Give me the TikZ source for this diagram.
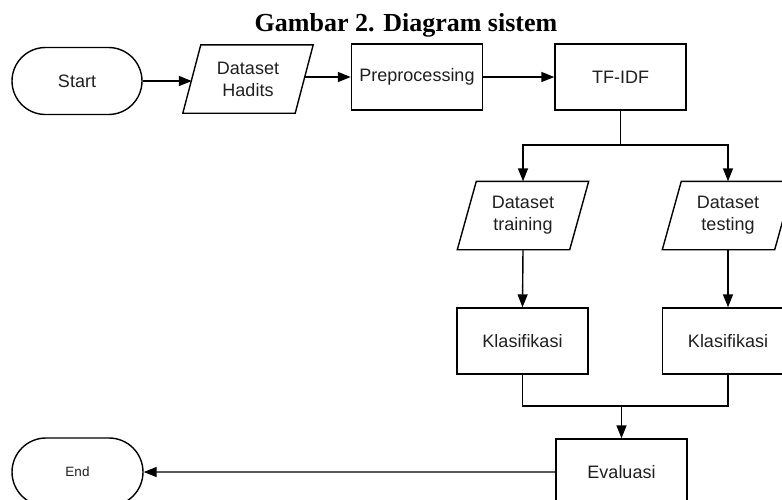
\documentclass[tikz,border=0pt]{standalone}
\usepackage{fontspec}
\setmainfont{Liberation Sans}
\newfontfamily\titlefont{Liberation Serif}
\usetikzlibrary{arrows.meta,shapes.misc}
\tikzset{
  boxline/.style={draw=black, line width=1.4pt},
  lbl/.style={font=\fontsize{18}{22}\selectfont, text=black!88, align=center, inner sep=0pt},
  procbox/.style={lbl, boxline, rectangle, minimum width=131pt, minimum height=66pt},
  termbox/.style={lbl, boxline, rounded rectangle, minimum width=130pt, minimum height=67pt},
  parabox/.style={lbl, rectangle, minimum width=112pt, minimum height=68pt},
  arr/.style={line width=1.4pt, -{Triangle[length=13pt,width=10pt]}},
  conn/.style={line width=1.4pt},
}
\newcommand\drawparabox[2]{\draw[boxline, line join=miter] ([xshift=#2]#1.north west) -- ([xshift=#2]#1.north east) -- ([xshift=-#2]#1.south east) -- ([xshift=-#2]#1.south west) -- cycle;}
\begin{document}
\begin{tikzpicture}[x=1pt, y=-1pt]
\useasboundingbox (0,0) rectangle (782,499);
\clip (0,0) rectangle (782,499);
% title
\node[anchor=base, inner sep=0pt, font=\titlefont\bfseries\fontsize{26}{30}\selectfont] (title) at (406,31) {Gambar 2. Diagram sistem};
% top row
\node[termbox] (start) at (77,81) {Start};
\node[parabox] (hadits) at (248,79) {Dataset\\Hadits};
\drawparabox{hadits}{9pt}
\node[procbox] (prep) at (417,77) {Preprocessing};
\node[procbox] (tfidf) at (620.5,77) {TF-IDF};
% middle
\node[parabox] (train) at (523,215.5) {Dataset\\training};
\drawparabox{train}{9.5pt}
\node[parabox] (test) at (728,215.5) {Dataset\\testing};
\drawparabox{test}{9.5pt}
\node[procbox] (k1) at (522.5,341) {Klasifikasi};
\node[procbox] (k2) at (728,341) {Klasifikasi};
% bottom
\node[procbox] (eval) at (621.5,472) {Evaluasi};
\node[termbox, minimum width=131pt, minimum height=68pt, font=\fontsize{13.5}{16}\selectfont] (end) at (77.5,472) {End};
% connectors
\coordinate (sp) at (620.5,145);
\coordinate (jn) at (621.5,406);
\draw[arr] (start.east) -- (start.east -| hadits.west);
\draw[arr] (hadits.east |- prep.west) -- (prep.west);
\draw[arr] (prep) -- (tfidf);
\draw[conn] (tfidf.south) -- (sp);
\draw[arr] (sp) -| (train.north);
\draw[arr] (sp) -| (test.north);
\draw[arr] (train.south) -- (k1.north);
\draw[arr] (test.south) -- (k2.north);
\draw[conn] (k1.south) |- (jn) -| (k2.south);
\draw[arr] (jn) -- (eval.north);
\draw[arr] (eval) -- (end);
\end{tikzpicture}
\end{document}
